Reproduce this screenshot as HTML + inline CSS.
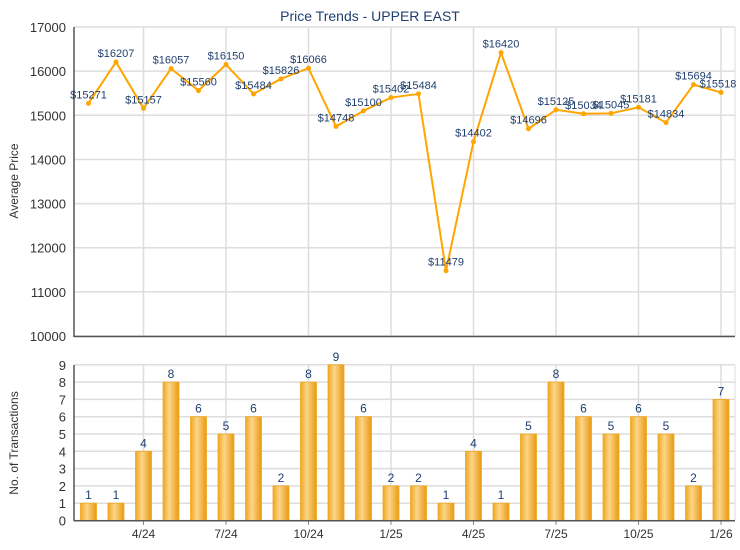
<!DOCTYPE html>
<html><head><meta charset="utf-8"><style>body{margin:0;background:#fff}svg{display:block;font-family:"Liberation Sans",Arial,sans-serif}</style></head>
<body>
<svg width="740" height="550" viewBox="0 0 740 550" xmlns="http://www.w3.org/2000/svg">
<defs>
<linearGradient id="bg" x1="0" x2="1" y1="0" y2="0">
<stop offset="0" stop-color="#eea820"/><stop offset="0.4" stop-color="#fcd58a"/><stop offset="1" stop-color="#e89a10"/>
</linearGradient>
</defs>
<text x="370" y="21" text-anchor="middle" font-size="14" fill="#1f3f6f">Price Trends - UPPER EAST</text>
<g id="top"></g>
<g id="bot"></g>
<script>
var ns="http://www.w3.org/2000/svg";
function el(p,t,a,txt){var e=document.createElementNS(ns,t);for(var k in a)e.setAttribute(k,a[k]);if(txt!=null)e.textContent=txt;p.appendChild(e);return e;}
var svg=document.querySelector('svg');
var T=document.getElementById('top'),B=document.getElementById('bot');
var L=74,R=735;
var prices=[15271,16207,15157,16057,15560,16150,15484,15826,16066,14748,15100,15402,15484,11479,14402,16420,14696,15125,15034,15045,15181,14834,15694,15518];
var cnt=[1,1,4,8,6,5,6,2,8,9,6,2,2,1,4,1,5,8,6,5,6,5,2,7];
function X(i){return 88.5+i*27.5;}
function YP(v){return 336-(v-10000)*0.04414;}
function YB(v){return 520.5-v*17.3;}
// top grid
for(var v=10000;v<=17000;v+=1000){var y=YP(v);el(T,'line',{x1:L,x2:R,y1:y,y2:y,stroke:'#dddddd','stroke-width':1.5});el(T,'text',{x:L-8,y:y+5,'text-anchor':'end','font-size':13,fill:'#333'},v);}
var labs=['4/24','7/24','10/24','1/25','4/25','7/25','10/25','1/26'];
for(var j=0;j<8;j++){var x=X(2+3*j);el(T,'line',{x1:x,x2:x,y1:27,y2:336,stroke:'#dddddd','stroke-width':1.5});el(B,'line',{x1:x,x2:x,y1:365,y2:520,stroke:'#dddddd','stroke-width':1.5});el(B,'line',{x1:x,x2:x,y1:520,y2:525,stroke:'#888'});el(B,'text',{x:x,y:538,'text-anchor':'middle','font-size':12,fill:'#333'},labs[j]);}
el(T,'line',{x1:R,x2:R,y1:27,y2:336,stroke:'#dddddd'});
el(T,'line',{x1:L,x2:L,y1:27,y2:337,stroke:'#555','stroke-width':1.5});
el(T,'line',{x1:L,x2:R,y1:336.5,y2:336.5,stroke:'#555','stroke-width':1.5});
el(T,'text',{x:18,y:181,'text-anchor':'middle','font-size':12,fill:'#333',transform:'rotate(-90 18 181)'},'Average Price');
var pts=prices.map(function(p,i){return X(i)+','+YP(p)}).join(' ');
el(T,'polyline',{points:pts,fill:'none',stroke:'#ffa500','stroke-width':2});
prices.forEach(function(p,i){el(T,'circle',{cx:X(i),cy:YP(p),r:2.5,fill:'#ffa500'});var x=X(i);if(i==23)x=718;el(T,'text',{x:x,y:YP(p)-5,'text-anchor':'middle','font-size':11,fill:'#1f3f6f'},'$'+p);});
// bottom
for(var v=0;v<=9;v++){var y=YB(v);el(B,'line',{x1:L,x2:R,y1:y,y2:y,stroke:'#dddddd','stroke-width':1.5});el(B,'text',{x:L-8,y:y+5,'text-anchor':'end','font-size':13,fill:'#333'},v);}
el(B,'line',{x1:R,x2:R,y1:365,y2:520,stroke:'#dddddd'});
cnt.forEach(function(c,i){var y=YB(c);el(B,'rect',{x:X(i)-8,y:y,width:16,height:520.5-y,fill:'url(#bg)',stroke:'#f0a820','stroke-width':0.8});el(B,'text',{x:X(i),y:y-4,'text-anchor':'middle','font-size':12,fill:'#1f3f6f'},c);});
el(B,'line',{x1:L,x2:L,y1:365,y2:521,stroke:'#555','stroke-width':1.5});
el(B,'line',{x1:L,x2:R,y1:520.8,y2:520.8,stroke:'#555','stroke-width':1.5});
el(B,'text',{x:18,y:443,'text-anchor':'middle','font-size':12,fill:'#333',transform:'rotate(-90 18 443)'},'No. of Transactions');
</script>
</svg>
</body></html>
